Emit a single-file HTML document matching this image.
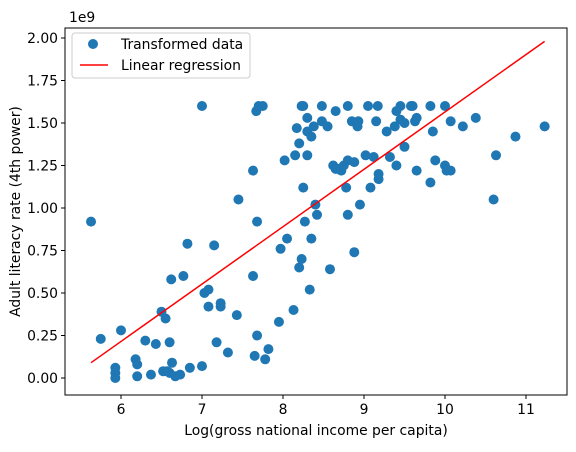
<!DOCTYPE html>
<html><head><meta charset="utf-8"><style>
body{margin:0;background:#fff;font-family:"DejaVu Sans","Liberation Sans",sans-serif}
svg text{font-family:"DejaVu Sans","Liberation Sans",sans-serif}
</style></head><body>
<svg width="576" height="448" xmlns="http://www.w3.org/2000/svg">
<g id="plot"></g>
</svg>
<script>
const xs=[5.63,5.75,5.93,5.93,5.93,6.0,6.18,6.2,6.2,6.3,6.37,6.43,6.5,6.52,6.55,6.57,6.6,6.6,6.62,6.63,6.67,6.73,6.77,6.82,6.85,7.0,7.0,7.03,7.08,7.08,7.15,7.18,7.23,7.23,7.32,7.43,7.45,7.63,7.63,7.65,7.67,7.68,7.68,7.7,7.75,7.78,7.82,7.95,7.97,8.02,8.05,8.13,8.15,8.17,8.2,8.2,8.23,8.23,8.25,8.25,8.27,8.3,8.3,8.3,8.33,8.35,8.35,8.38,8.4,8.42,8.48,8.48,8.55,8.58,8.62,8.65,8.65,8.68,8.72,8.75,8.78,8.8,8.8,8.8,8.85,8.88,8.88,8.92,8.93,8.95,9.02,9.05,9.08,9.12,9.15,9.17,9.18,9.18,9.28,9.32,9.38,9.4,9.4,9.45,9.45,9.5,9.5,9.58,9.6,9.63,9.65,9.65,9.82,9.82,9.85,9.88,10.0,10.0,10.02,10.07,10.07,10.22,10.38,10.6,10.63,10.87,11.23];
const ys=[0.92,0.23,0.06,0.03,0.0,0.28,0.11,0.08,0.01,0.22,0.02,0.2,0.39,0.04,0.35,0.04,0.03,0.21,0.58,0.09,0.01,0.02,0.6,0.79,0.06,0.07,1.6,0.5,0.52,0.42,0.78,0.21,0.44,0.42,0.15,0.37,1.05,1.22,0.6,0.13,1.57,0.25,0.92,1.6,1.6,0.11,0.17,0.33,0.76,1.28,0.82,0.4,1.31,1.47,1.38,0.65,1.6,0.7,1.6,1.12,0.92,1.45,1.31,1.53,0.52,0.82,1.42,1.48,1.02,0.96,1.6,1.51,1.48,0.64,1.25,1.57,1.23,1.23,1.22,1.25,1.12,0.96,1.28,1.6,1.51,1.27,0.74,1.48,1.51,1.02,1.31,1.6,1.12,1.3,1.51,1.6,1.17,1.2,1.45,1.3,1.48,1.57,1.25,1.6,1.52,1.5,1.36,1.6,1.6,1.51,1.53,1.22,1.6,1.15,1.45,1.28,1.6,1.25,1.22,1.51,1.22,1.48,1.53,1.05,1.31,1.42,1.48];
const lineX=[5.63,11.23];
const lineY=[0.09,1.98];
const xTicks=[6,7,8,9,10,11];
const yTicks=[0,0.25,0.5,0.75,1,1.25,1.5,1.75,2];
const X=v=>121+(v-6)*81, Y=v=>378-v*170;
const NS="http://www.w3.org/2000/svg", g=document.getElementById('plot');
function mk(t,a,p){const e=document.createElementNS(NS,t);for(const k in a)e.setAttribute(k,a[k]);(p||g).appendChild(e);return e;}
const L=65,R=567,T=28,B=395,FS=13.9;
for(let i=0;i<xs.length;i++){
 const c=mk('circle',{cx:X(xs[i]),cy:Y(ys[i]),r:5,fill:'#1f77b4'});
 
 
}
const ln=mk('line',{x1:X(lineX[0]),y1:Y(lineY[0]),x2:X(lineX[1]),y2:Y(lineY[1]),stroke:'#ff0000','stroke-width':1.5});


const fr=mk('rect',{x:L,y:T,width:R-L,height:B-T,fill:'none',stroke:'#000','stroke-width':1});


xTicks.forEach(v=>{mk('line',{x1:X(v),x2:X(v),y1:B,y2:B+4,stroke:'#000'});
 const t=mk('text',{x:X(v),y:B+19,'text-anchor':'middle','font-size':FS});t.textContent=v;
 
 });
yTicks.forEach(v=>{mk('line',{x1:L-4,x2:L,y1:Y(v),y2:Y(v),stroke:'#000'});
 const t=mk('text',{x:L-7,y:Y(v)+5,'text-anchor':'end','font-size':FS});t.textContent=v.toFixed(2);
 
 });
const ex=mk('text',{x:L+4,y:T-6,'font-size':FS});ex.textContent='1e9';


const xt=mk('text',{x:(L+R)/2,y:435,'text-anchor':'middle','font-size':FS});xt.textContent='Log(gross national income per capita)';


const yt=mk('text',{x:0,y:0,'text-anchor':'middle','font-size':FS,transform:`translate(20,${(T+B)/2}) rotate(-90)`});yt.textContent='Adult literacy rate (4th power)';


const lg=mk('g',{});


mk('rect',{x:72,y:33,width:178,height:45,rx:3,fill:'#fff','fill-opacity':0.8,stroke:'#ccc'},lg);
mk('circle',{cx:93,cy:44,r:5,fill:'#1f77b4'},lg);
const t1=mk('text',{x:121,y:49,'font-size':FS},lg);t1.textContent='Transformed data';


mk('line',{x1:80,x2:108,y1:65,y2:65,stroke:'#ff0000','stroke-width':1.5},lg);
const t2=mk('text',{x:121,y:70,'font-size':FS},lg);t2.textContent='Linear regression';


</script>
</body></html>
